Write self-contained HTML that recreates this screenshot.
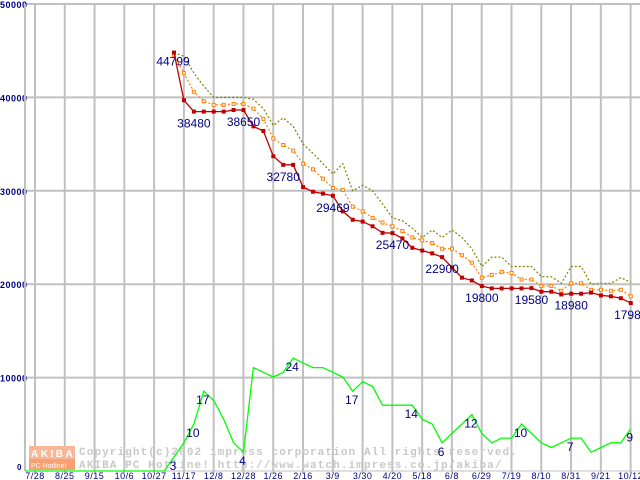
<!DOCTYPE html>
<html><head><meta charset="utf-8"><style>
body{margin:0;background:#fff;width:640px;height:480px;overflow:hidden}
svg{display:block}
</style></head><body>
<svg id="chart" width="640" height="480" xmlns="http://www.w3.org/2000/svg" font-family="Liberation Sans, sans-serif">
<g id="grid"></g>
<g id="wm">
<rect x="29" y="446" width="46" height="13" fill="#f8b898"/>
<rect x="29" y="459" width="46" height="11" fill="#f8a070"/>
<text x="31" y="457" font-size="10" font-weight="bold" fill="#fff" letter-spacing="2.5">AKIBA</text>
<text x="31" y="468" font-size="7" fill="#fff">PC Hotline!</text>
<text x="79" y="455" font-family="Liberation Mono, monospace" font-weight="bold" font-size="11" fill="#c8c8c8" letter-spacing="1.1">Copyright(c)2002 impress corporation All rights reserved.</text>
<text x="79" y="468" font-family="Liberation Mono, monospace" font-weight="bold" font-size="11" fill="#c8c8c8" letter-spacing="1.1">AKIBA PC Hotline!  http://www.watch.impress.co.jp/akiba/</text>
</g>
<g id="series"></g>
<g id="labels"></g>
</svg>
<script>
const xLabels=["7/28","8/25","9/15","10/6","10/27","11/17","12/8","12/28","1/26","2/16","3/9","3/30","4/20","5/18","6/8","6/29","7/19","8/10","8/31","9/21","10/12"];
const yTicks=[0,10000,20000,30000,40000,50000];
const minPrice=[44799,39700,38480,38480,38480,38480,38650,38650,36900,36400,33700,32780,32780,30400,29900,29700,29469,27800,26900,26700,26200,25500,25470,24900,23900,23600,23300,22900,21800,20700,20400,19800,19550,19550,19550,19550,19580,19200,19200,18900,18980,18980,19100,18800,18700,18500,17980];
const avgPrice=[44500,42600,40600,39600,39200,39200,39300,39300,38800,37700,35600,34900,34300,32900,32300,31300,30300,30100,28300,27800,27100,26600,26200,25700,25000,24700,24400,23800,23800,23100,22300,20700,21000,21300,21200,20500,20500,19800,19800,19300,20100,20100,19400,19400,19300,19400,18700];
const maxPrice=[44800,44400,42600,41200,40000,40000,40000,40000,39800,38800,37000,37800,36900,35000,34000,32900,31800,32900,30000,30600,30000,28600,27100,26800,26000,25000,25800,25000,25800,25000,23800,21900,22900,22900,21900,21900,21900,20800,20800,20100,21900,21900,20000,20100,20100,20700,20200];
const shopCount=[3,6,10,17,15,11,6,4,22,21,20,21,24,23,22,22,21,20,17,19,18,14,14,14,14,11,10,6,8,10,12,8,6,7,7,10,8,6,5,6,7,7,4,5,6,6,9];
const priceLabelIdx=[0,2,7,11,16,22,27,31,36,40,46];
const countLabelIdx=[0,2,3,7,12,18,24,27,30,35,40,46];

const NS="http://www.w3.org/2000/svg";
const L=25,R=640,T=4,B=471;
const xi=i=>174+9.93*i;
const yP=v=>B-(v/50000)*(B-T);
const yC=v=>B-v*4.7;
function mk(tag,attrs,parent){const e=document.createElementNS(NS,tag);for(const k in attrs)e.setAttribute(k,attrs[k]);parent.appendChild(e);return e;}
const grid=document.getElementById('grid'),ser=document.getElementById('series'),lab=document.getElementById('labels');

yTicks.forEach((v,k)=>{
 const y=yP(v);
 const ln=mk('line',{x1:L,x2:R,y1:y,y2:y,stroke:'#c0c0c0','stroke-width':(v===0?1:2)},grid);
 
 
 const t=mk('text',{x:(v===0?22:0),y:(v===0?y-1:y+4),'font-size':(v===0?8:9),'font-weight':'bold',fill:'#000080','text-anchor':(v===0?'end':'start'),'letter-spacing':'0.5'},grid);
 t.textContent=String(v);
 
 
});
const ax=mk('line',{x1:L,x2:L,y1:T,y2:B,stroke:'#c0c0c0','stroke-width':2},grid);


xLabels.forEach((s,k)=>{
 const x=35+29.78*k;
 const ln=mk('line',{x1:x,x2:x,y1:T,y2:B+2,stroke:'#c0c0c0','stroke-width':2},grid);
 
 
 const t=mk('text',{x:x,y:479,'font-size':9,fill:'#000080','text-anchor':'middle','letter-spacing':'0.5'},grid);
 t.textContent=s;
 
 
});

function pts(arr,yf){return arr.map((v,i)=>xi(i).toFixed(1)+','+yf(v).toFixed(1)).join(' ');}
const gp=mk('polyline',{points:L+','+yC(0)+' '+xi(-1)+','+yC(0)+' '+pts(shopCount,yC),fill:'none',stroke:'#00ff00','stroke-width':1.3},ser);


const mp=mk('polyline',{points:pts(maxPrice,yP),fill:'none',stroke:'#808000','stroke-width':1.2,'stroke-dasharray':'2,2'},ser);


const ap=mk('polyline',{points:pts(avgPrice,yP),fill:'none',stroke:'#ff8000','stroke-width':1.2,'stroke-dasharray':'2,2'},ser);


avgPrice.forEach((v,i)=>{
 const r=mk('rect',{x:xi(i)-1.5,y:yP(v)-1.5,width:3,height:3,fill:'#fff',stroke:'#ff8000','stroke-width':1},ser);
 
 
});
const rp=mk('polyline',{points:pts(minPrice,yP),fill:'none',stroke:'#c00000','stroke-width':1.3},ser);


minPrice.forEach((v,i)=>{
 const r=mk('rect',{x:xi(i)-2,y:yP(v)-2,width:4,height:4,fill:'#c00000'},ser);
 
 
});
priceLabelIdx.forEach((i,k)=>{
 const t=mk('text',{x:xi(i)+(k===0?-1:0),y:yP(minPrice[i])+(k===0?13:16),'font-size':12,fill:'#000080','text-anchor':'middle'},lab);
 t.textContent=String(minPrice[i]);
 
 
});
countLabelIdx.forEach(i=>{
 const t=mk('text',{x:xi(i)-1,y:yC(shopCount[i])+13,'font-size':12,fill:'#000080','text-anchor':'middle'},lab);
 t.textContent=String(shopCount[i]);
 
 
});
</script>
</body></html>
